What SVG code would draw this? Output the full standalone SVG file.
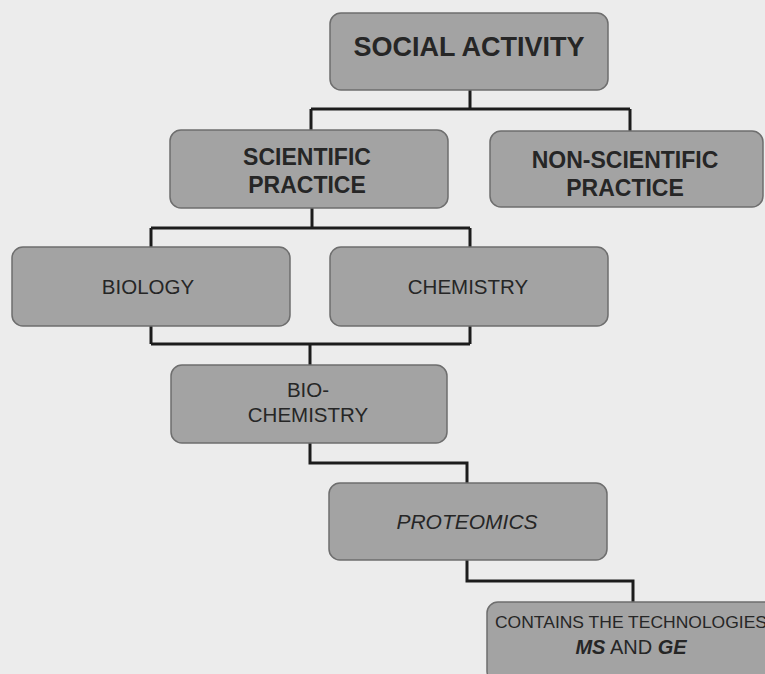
<svg xmlns="http://www.w3.org/2000/svg" width="765" height="674" viewBox="0 0 765 674">
<style>
.box{fill:#a3a3a3;stroke:#6e6e6e;stroke-width:1.5}
.t{font-family:"Liberation Sans",Arial,sans-serif;fill:#262626;text-anchor:middle}
.b{font-weight:bold}
.conn{fill:none;stroke:#1c1c1c;stroke-width:3;stroke-linejoin:miter}
</style>
<rect x="0" y="0" width="765" height="674" fill="#ececec"/>
<g id="connectors" class="conn">
<path d="M470 90V109M311 109H630M311 109V130M630 109V131"/>
<path d="M312 208V228M151 228H470M151 228V247M470 228V247"/>
<path d="M151 326V344M470 326V344M151 344H470M310 344V365"/>
<path d="M310 443V463H467V483"/>
<path d="M467 560V581H633V602"/>
</g>
<g id="social">
<rect class="box" x="330" y="13" width="278" height="77" rx="11"/>
<text class="t b" x="469" y="56" font-size="27">SOCIAL ACTIVITY</text>
</g>
<g id="scientific">
<rect class="box" x="170" y="130" width="278" height="78" rx="11"/>
<text class="t b" x="307" y="165" font-size="23">SCIENTIFIC</text>
<text class="t b" x="307" y="193" font-size="23">PRACTICE</text>
</g>
<g id="nonscientific">
<rect class="box" x="490" y="131" width="273" height="76" rx="11"/>
<text class="t b" x="625" y="168" font-size="23">NON-SCIENTIFIC</text>
<text class="t b" x="625" y="196" font-size="23">PRACTICE</text>
</g>
<g id="biology">
<rect class="box" x="12" y="247" width="278" height="79" rx="11"/>
<text class="t" x="148" y="294" font-size="20.5">BIOLOGY</text>
</g>
<g id="chemistry">
<rect class="box" x="330" y="247" width="278" height="79" rx="11"/>
<text class="t" x="468" y="294" font-size="20.5">CHEMISTRY</text>
</g>
<g id="biochemistry">
<rect class="box" x="171" y="365" width="276" height="78" rx="11"/>
<text class="t" x="308" y="397" font-size="20.5">BIO-</text>
<text class="t" x="308" y="422" font-size="20.5">CHEMISTRY</text>
</g>
<g id="proteomics">
<rect class="box" x="329" y="483" width="278" height="77" rx="11"/>
<text class="t" x="467" y="529" font-size="21" font-style="italic">PROTEOMICS</text>
</g>
<g id="technologies">
<rect class="box" x="487" y="602" width="290" height="80" rx="11"/>
<text class="t" x="495" y="628" font-size="17" text-anchor="start" style="text-anchor:start" textLength="272" lengthAdjust="spacingAndGlyphs">CONTAINS THE TECHNOLOGIES</text>
<text class="t" x="631" y="654" font-size="20"><tspan font-weight="bold" font-style="italic">MS</tspan> AND <tspan font-weight="bold" font-style="italic">GE</tspan></text>
</g>
</svg>
